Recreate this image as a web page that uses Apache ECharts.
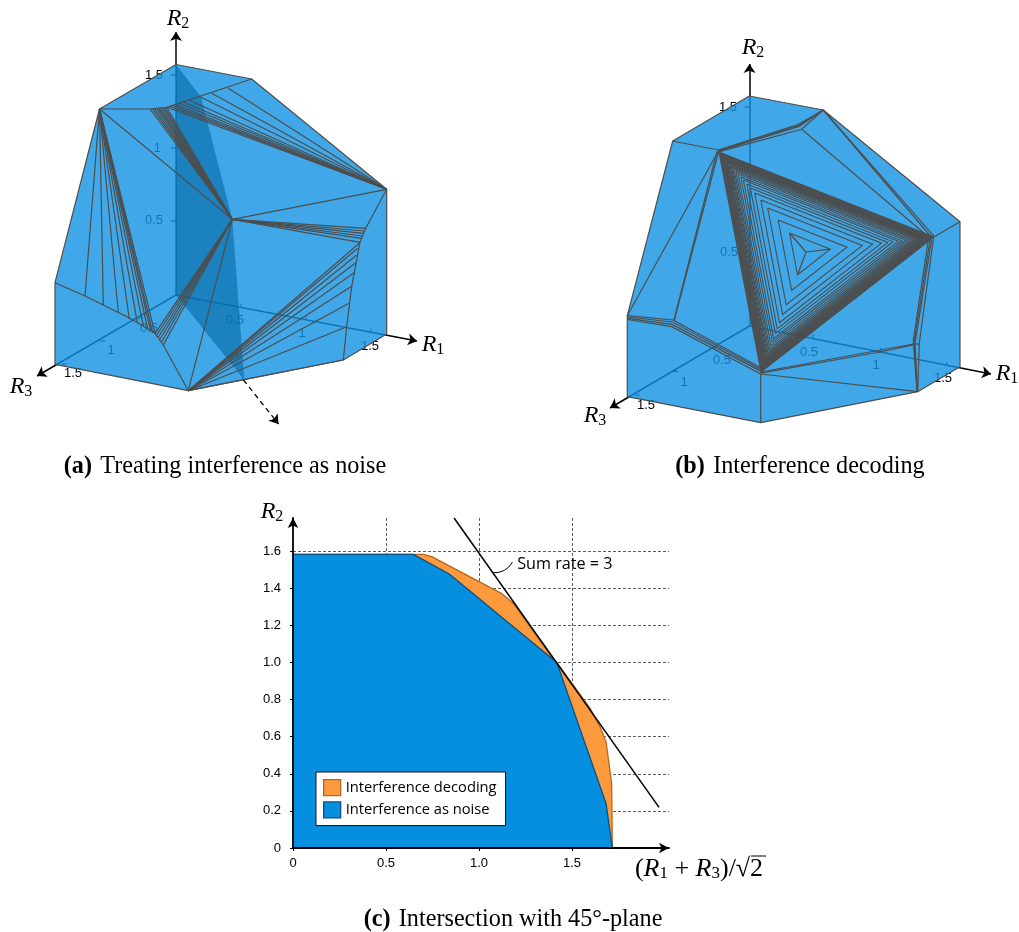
<!DOCTYPE html>
<html><head><meta charset="utf-8">
<style>html,body{margin:0;padding:0;background:#fff}#c{width:1019px;height:932px}</style>
<script src="https://cdn.jsdelivr.net/npm/echarts@6/dist/echarts.min.js"></script>
</head><body><div id="c"></div>
<script>
// ---------- panel (c): rates ----------
const xTicks=[0,0.5,1,1.5];
const xGridLines=[0.5,1,1.5];
const xTickLabels=['0','0.5','1.0','1.5'];
const yTicks=[0,0.2,0.4,0.6,0.8,1,1.2,1.4,1.6];
const yGridLines=[0.2,0.4,0.6,0.8,1,1.2,1.4,1.6];
const yTickLabels=['0','0.2','0.4','0.6','0.8','1.0','1.2','1.4','1.6'];
const noiseRegion=[[0,1.582],[0.647,1.582],[0.84,1.476],[1.418,1.0],[1.683,0.24],[1.717,0]];
const decodingRegion=[[0,1.582],[0.70,1.582],[0.745,1.57],[1.12,1.372],[1.185,1.318],[1.382,1.04],[1.418,1.0],[1.597,0.753],[1.65,0.654],[1.683,0.573],[1.713,0.349],[1.717,0]];
const sumRateLine=[[0.866,1.778],[1.968,0.219]];
const sumRateLeader=[[1.075,1.483],[1.18,1.54]];
const sumRateNote=[1.205,1.53,'Sum rate = 3'];

// ---------- projected polyhedron (a), coordinates on the drawing plane ----------
const aOutline=[[176,64.5],[251.7,79],[386.7,189.3],[386.7,334],[343.3,360],[188.3,390.7],[55,364.3],[55,282.7],[99.5,109]];
const aShadedPlane=[[176,64.5],[201,97],[232.3,219.3],[244.3,380],[176,295]];
const aP=[99.5,109], aM=[232.3,219.3], aR=[386.7,189.3], aB=[188.3,390.7];
const aPaths=[
 [[99.5,109],[150,109],[166.7,107.3],[251.7,79]],
 [[99.5,109],[232.3,219.3]],
 [[232.3,219.3],[386.7,189.3]],
 [[232.3,219.3],[188.3,390.7]],
 [[386.7,189.3],[365.7,228.3],[360,242.3],[351.7,286.7],[346.7,326.7],[343.3,360]],
 [[55,282.7],[85,296],[130,318.3],[155,333.3],[163.3,345],[188.3,390.7]]
];
const aFanMTop=[[150,109],[152.5,108.8],[154.5,108.6],[156.7,108.4],[158.5,108.2],[160,108],[161.7,107.8],[163.5,107.6],[165,107.5],[166.7,107.3]];
const aFanRTop=[[166.7,107.3],[170,106.4],[173,105.5],[176,104.7],[180,103.5],[184,102.3],[190,100.5],[200,96.8],[211.7,93.3],[228.3,88.3]];
const aFanMRight=[[365.7,228.3],[364.3,231],[363.3,233.3],[362.3,236],[361.3,238.3],[360,242.3]];
const aFanBRight=[[359.3,243.3],[357.7,248.3],[356.7,255],[355.7,262.7],[354,272.7],[352,286],[349,303.3],[346.7,326.7],[343.3,360]];
const aFanMLeft=[[155,333.3],[156.7,335],[158.3,337.3],[160,339.3],[161.7,341.7],[163.3,345]];
const aFanPLow=[[85,296],[103.3,305],[118.3,312.7],[129.3,319],[137.3,322.7],[143.3,326],[147.7,329],[150.7,331],[152.7,332.7],[155,333.3]];
const aAxes=[[[176,295],[176,32]],[[176,295],[417,341]],[[176,295],[37,376]]];
const aDashed=[[243.5,380],[278.5,424]];
const aTicks=[[[171,75],[176,75]],[[171,148],[176,148]],[[171,221],[176,221]],
 [[241,307.5],[241,303.5]],[[306,320],[306,316]],[[371,332.5],[371,328.5]],
 [[138,318],[143,318]],[[100,341],[105,341]],[[62,364],[67,364]]];
const aLabels=[[163,75,'1.5','right'],[161,148,'1','right'],[163,220,'0.5','right'],
 [235,320,'0.5','center'],[302,333,'1','center'],[370,346,'1.5','center'],
 [149,328,'0.5','center'],[111,350,'1','center'],[73,373,'1.5','center']];

// ---------- projected polyhedron (b) ----------
const bOutline=[[749.3,96],[823.3,110],[960,221.7],[960,366.7],[917.7,391.7],[760.7,422.7],[627.3,396.7],[627.3,315.7],[672.7,141]];
const bPaths=[
 [[672.7,141],[718.3,150]],
 [[718.3,150],[798,124.5],[823.3,110]],
 [[718.3,150.6],[798.6,125.4],[823.3,110]],
 [[718.3,151.2],[799.2,126.4],[823.3,110]],
 [[718.5,151.8],[801.7,129.3],[823.3,110]],
 [[801.7,129.3],[928.3,236.7]],
 [[823.3,110],[930,235.5]],
 [[823.3,110],[934.3,236.7]],
 [[934.3,236.7],[960,221.7]],
 [[718.3,151],[627.3,315.7]],
 [[717,151.5],[673.8,320.4]],
 [[718.4,152.5],[674.2,320.6]],
 [[627.3,315.7],[673.3,320],[761.7,368.3]],
 [[627.3,317],[672.8,322],[761.4,369.8]],
 [[627.3,318.3],[672.2,324.4],[761,371.4]],
 [[627.3,319.5],[671.7,326.7],[760.7,374]],
 [[760.7,374],[760.7,422.7]],
 [[760.7,372],[913.3,344]],
 [[760.7,373.2],[880,352],[913.3,344.8]],
 [[760.7,374],[917.7,391.7]],
 [[928.3,240],[913.3,340],[917,391]],
 [[930,240],[914,343],[917.3,391]],
 [[931.5,240],[915,344],[917.5,391.5]],
 [[933.5,238],[919.3,343],[917.7,391.7]],
 [[913.3,344],[919,344]]
];
const bCentre=[806,252];
// nested triangles: corner towards upper left, corner towards right, corner towards bottom
const bRings=[
 [789.5,233,830.3,249.2,797.5,274.8],[778.2,220,847,247.2,791.6,290.4],[767.7,208,862.3,245.4,786.2,304.8],
 [760.8,200,872.6,244.2,782.6,314.4],[754.7,193,881.5,243.2,779.5,322.8],[750.3,188,887.9,242.4,777.2,328.8],
 [746.8,184,893,241.8,775.4,333.6],[743.4,180,898.2,241.2,773.6,338.4],[740.8,177,902,240.8,772.3,342],
 [738.1,174,905.8,240.3,770.9,345.6],[736,171.5,909,239.9,769.8,348.6],[734.2,169.5,911.6,239.6,768.9,351],
 [732.5,167.5,914.2,239.3,768,353.4],[731.2,166,916.1,239.1,767.3,355.2],[729.9,164.5,918,238.9,766.6,357],
 [728.6,163,919.9,238.7,766,358.8],[727.7,162,921.2,238.5,765.5,360],[726.8,161,922.5,238.4,765,361.2],
 [726,160,923.8,238.2,764.6,362.4],[725.1,159,925,238,764.2,363.6],[724.2,158,926.3,237.9,763.7,364.8],
 [723.4,157,927.6,237.8,763.3,366],[722.5,156,928.9,237.6,762.8,367.2],[721.6,155,930.2,237.5,762.4,368.4],
 [720.7,154,931.4,237.3,761.9,369.6],[719.9,153,932.7,237.2,761.4,370.8],[719,152,934,237,761,372]
];
const bAxes=[[[749.5,326],[749.5,64]],[[749.5,326],[991,374]],[[749.5,326],[610,408]]];
const bTicks=[[[745,107],[749.5,107]],[[745,180],[749.5,180]],[[745,252],[749.5,252]],
 [[813,338],[813,334]],[[880.7,351.7],[880.7,347.7]],[[946.7,365.7],[946.7,361.7]],
 [[711,348],[716,348]],[[673,371.5],[678,371.5]],[[635,395],[640,395]]];
const bLabels=[[737,107,'1.5','right'],[737,180,'1','right'],[738,252,'0.5','right'],
 [809,352,'0.5','center'],[876,365,'1','center'],[943,378,'1.5','center'],
 [722,360,'0.5','center'],[684,382,'1','center'],[646,405,'1.5','center']];

// ---------- text ----------
const axisNames=[[178,19,'R','2'],[433,345,'R','1'],[21,387,'R','3'],[753,48,'R','2'],[1007,374,'R','1'],[595,416,'R','3'],[272,512,'R','2']];
const captions=[[225,467,'(a)','Treating interference as noise'],[800,467,'(b)','Interference decoding'],[513,920,'(c)','Intersection with 45°-plane']];
const xAxisTitle=[699,869];
const rootBar=[[751,856],[766,856]];

// ---------- style ----------
const FACE='rgba(16,146,226,0.8)', EDGE='#4d4d4d', SERIF='"Liberation Serif"', SANS='"Liberation Sans"', CMSS='"Open Sans"';

function segs(hub,pts){return pts.map(p=>[hub,p]);}
function ringPaths(r){return [[[r[0],r[1]],[r[2],r[3]],[r[4],r[5]],[r[0],r[1]]]];}
const edgePaths=[].concat(
 aPaths,segs(aM,aFanMTop),segs(aR,aFanRTop),segs(aM,aFanMRight),segs(aB,aFanBRight),segs(aM,aFanMLeft),segs(aP,aFanPLow),
 bPaths,
 [[bCentre,[789.5,233]],[bCentre,[830.3,249.2]],[bCentre,[797.5,274.8]]]);
const ringEdgePaths=bRings.flatMap(ringPaths);

function linesSeries(paths,z,style,extra){
 return Object.assign({type:'lines',coordinateSystem:'cartesian2d',xAxisIndex:0,yAxisIndex:0,polyline:true,silent:true,z:z,
  lineStyle:Object.assign({opacity:1,curveness:0},style),
  data:paths.map(p=>({coords:p}))},extra||{});
}
function polySeries(polys,z,fill,stroke){
 return {type:'custom',coordinateSystem:'cartesian2d',xAxisIndex:0,yAxisIndex:0,silent:true,z:z,
  data:polys.map(p=>p[0]),
  renderItem:(params,api)=>({type:'polygon',shape:{points:polys[params.dataIndex].map(p=>api.coord(p))},
    style:{fill:fill,stroke:stroke||'none',lineWidth:stroke?1.2:0,lineJoin:'round'}})};
}
function textSeries(items,z,xi,yi,styleOf){
 return {type:'custom',coordinateSystem:'cartesian2d',xAxisIndex:xi,yAxisIndex:yi,silent:true,z:z,clip:false,
  data:items.map(t=>[t[0],t[1]]),
  renderItem:(params,api)=>{const t=items[params.dataIndex];const c=api.coord([t[0],t[1]]);
    return {type:'text',x:c[0],y:c[1],style:styleOf(t)};}};
}
const tickFont=t=>({text:t[2],align:t[3],verticalAlign:'middle',font:'13px '+SANS,fill:'#000'});
const mathRich={i:{fontFamily:SERIF,fontStyle:'italic',fontSize:24,color:'#000'},
 s:{fontFamily:SERIF,fontSize:16,color:'#000',padding:[9,0,0,0]},
 n:{fontFamily:SERIF,fontSize:24,color:'#000'}};
const titleRich={i:{fontFamily:SERIF,fontStyle:'italic',fontSize:26,color:'#000'},
 s:{fontFamily:SERIF,fontSize:17,color:'#000',padding:[10,0,0,0]},
 n:{fontFamily:SERIF,fontSize:26,color:'#000'}};

const series=[
 linesSeries(aAxes,1,{color:'#000',width:1.5},{polyline:false,symbol:['none','arrow'],symbolSize:9}),
 linesSeries(bAxes,1,{color:'#000',width:1.5},{polyline:false,symbol:['none','arrow'],symbolSize:9}),
 linesSeries(aTicks.concat(bTicks),1,{color:'#000',width:1}),
 textSeries(aLabels.concat(bLabels),1,0,0,tickFont),
 polySeries([aOutline,bOutline],2,FACE,EDGE),
 polySeries([aShadedPlane],3,'rgba(4,105,165,0.6)'),
 linesSeries(edgePaths,4,{color:EDGE,width:1.2}),
 linesSeries(ringEdgePaths,4,{color:EDGE,width:1.1}),
 linesSeries([aDashed],4,{color:'#000',width:1.3,type:[5,4]},{polyline:false,symbol:['none','arrow'],symbolSize:9}),
 textSeries(axisNames,6,0,0,t=>({text:'{i|'+t[2]+'}{s|'+t[3]+'}',rich:mathRich,align:'center',verticalAlign:'middle'})),
 textSeries(captions,6,0,0,t=>({text:'{b|'+t[2]+'} {r|'+t[3]+'}',align:'center',verticalAlign:'middle',
   rich:{b:{fontFamily:SERIF,fontWeight:'bold',fontSize:24.2,color:'#000',padding:[0,5,0,0]},r:{fontFamily:SERIF,fontSize:24.2,color:'#000'}}})),
 textSeries([xAxisTitle],6,0,0,t=>({text:'{n|(}{i|R}{s|1}{n| + }{i|R}{s|3}{n|)/√2}',rich:titleRich,align:'center',verticalAlign:'middle'})),
 linesSeries([rootBar],6,{color:'#000',width:1}),
 // panel (c)
 {name:'Interference decoding',type:'line',xAxisIndex:1,yAxisIndex:1,data:decodingRegion,z:2,showSymbol:false,silent:true,
  lineStyle:{color:'#b5651d',width:1.3},areaStyle:{color:'#fd9a3e',opacity:1}},
 {name:'Interference as noise',type:'line',xAxisIndex:1,yAxisIndex:1,data:noiseRegion,z:3,showSymbol:false,silent:true,
  lineStyle:{color:'#0d4f80',width:1.3},areaStyle:{color:'#068fdf',opacity:1}},
 {type:'line',xAxisIndex:1,yAxisIndex:1,data:sumRateLine,z:4,showSymbol:false,silent:true,lineStyle:{color:'#000',width:1.5}},
 {type:'lines',coordinateSystem:'cartesian2d',xAxisIndex:1,yAxisIndex:1,z:4,silent:true,
  lineStyle:{color:'#000',width:1,opacity:1,curveness:-0.3},data:[{coords:sumRateLeader}]},
 textSeries([sumRateNote],6,1,1,t=>({text:t[2],align:'left',verticalAlign:'middle',font:'16.2px '+CMSS,fill:'#000'}))
];

const labelOf=(vals,labs)=>v=>{const i=vals.findIndex(a=>Math.abs(a-v)<1e-6);return i<0?'':labs[i];};
const gridLineStyle={color:'#333',width:0.8,type:[3,2]};
const option={
 animation:false,
 grid:[{left:0,top:0,width:1019,height:932,show:false},
       {left:293,top:518,width:376,height:330,show:false},
       {left:293,top:518,width:376,height:330,show:false}],
 xAxis:[
  {type:'value',gridIndex:0,min:0,max:1019,show:false},
  {type:'value',gridIndex:1,min:0,max:2.0215,z:6,interval:0.5,splitLine:{show:false},
   axisLine:{show:true,onZero:false,symbol:['none','arrow'],symbolSize:[8,10],lineStyle:{color:'#000',width:1.8}},
   axisTick:{show:true,length:3,customValues:xTicks,lineStyle:{color:'#000'}},
   axisLabel:{customValues:xTicks,formatter:labelOf(xTicks,xTickLabels),fontFamily:'Liberation Sans',fontSize:13,color:'#000',margin:9}},
  {type:'value',gridIndex:2,min:0,max:2.0215,z:0,interval:0.5,axisLine:{show:false},axisTick:{show:false,customValues:xGridLines},axisLabel:{show:false},
   splitLine:{show:true,showMinLine:true,showMaxLine:true,lineStyle:gridLineStyle}}
 ],
 yAxis:[
  {type:'value',gridIndex:0,min:0,max:932,inverse:true,show:false},
  {type:'value',gridIndex:1,min:0,max:1.778,z:6,interval:0.2,splitLine:{show:false},
   axisLine:{show:true,onZero:false,symbol:['none','arrow'],symbolSize:[8,10],lineStyle:{color:'#000',width:1.8}},
   axisTick:{show:true,length:3,customValues:yTicks,lineStyle:{color:'#000'}},
   axisLabel:{customValues:yTicks,formatter:labelOf(yTicks,yTickLabels),fontFamily:'Liberation Sans',fontSize:13,color:'#000',margin:12}},
  {type:'value',gridIndex:2,min:0,max:1.778,z:0,interval:0.2,axisLine:{show:false},axisTick:{show:false,customValues:yGridLines},axisLabel:{show:false},
   splitLine:{show:true,showMinLine:true,showMaxLine:true,lineStyle:gridLineStyle}}
 ],
 legend:{show:true,left:316,top:772,orient:'vertical',z:10,padding:[7,9,7,7],itemGap:5,itemWidth:17,itemHeight:16,selectedMode:false,
  backgroundColor:'#fff',borderColor:'#111',borderWidth:1,borderRadius:0,
  textStyle:{fontFamily:'Open Sans',fontSize:14.7,color:'#000'},
  data:[{name:'Interference decoding',icon:'rect',itemStyle:{color:'#fd9a3e',borderColor:'#b5651d',borderWidth:1.3}},
        {name:'Interference as noise',icon:'rect',itemStyle:{color:'#068fdf',borderColor:'#0d4f80',borderWidth:1.3}}]},
 series:series
};
const chart=echarts.init(document.getElementById('c'),null,{renderer:'canvas'});
chart.setOption(option);
</script></body></html>
